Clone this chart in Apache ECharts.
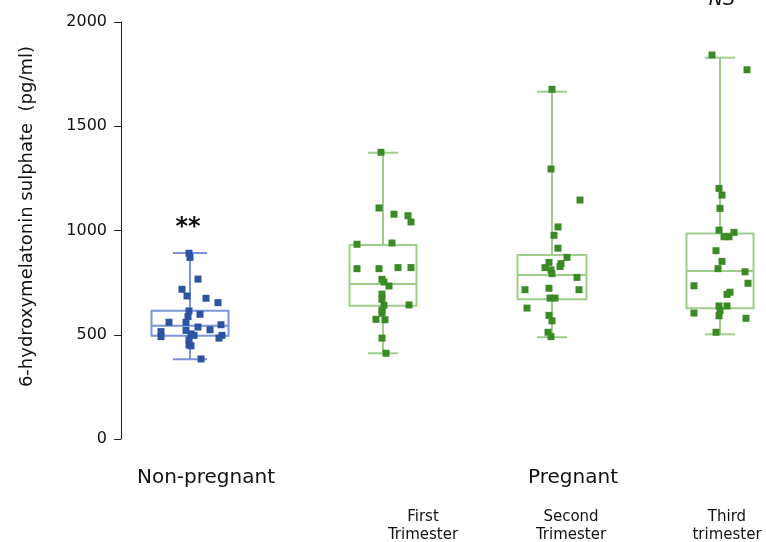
<!DOCTYPE html>
<html><head><meta charset="utf-8">
<script src="https://cdn.jsdelivr.net/npm/echarts@6/dist/echarts.min.js"></script>
<style>html,body{margin:0;padding:0;background:#fff}#c{width:766px;height:542px}</style>
</head><body><div id="c"></div>
<script>
// ---- data ----
const groups = ['Non-pregnant', 'First Trimester', 'Second Trimester', 'Third trimester'];
const groupX = [69, 262, 431, 599];            // group positions on the (hidden) x value axis
const yTicks = [0, 500, 1000, 1500, 2000];
// [min, Q1, median, Q3, max]
const boxNonPregnant = [382, 495, 543, 615, 892];
const boxFirst = [411, 639, 743, 930, 1373];
const boxSecond = [488, 670, 786, 882, 1666];
const boxThird = [502, 627, 806, 986, 1829];
// points: [jitter offset on x axis, value]
const ptsNonPregnant = [[-1,891],[0,871],[8,767],[-8,718],[-3,686],[16,675],[28,654],[-1,614],[10,598],[-2,587],[-21,560],[-4,560],[31,548],[8,537],[-29,515],[20,524],[-4,521],[-29,491],[1,504],[4,497],[32,497],[29,484],[-1,475],[-1,451],[1,447],[11,384]];
const ptsFirst = [[-2,1375],[-4,1108],[11,1078],[25,1071],[28,1041],[-26,934],[9,940],[-26,817],[-4,817],[15,822],[28,822],[-1,766],[1,753],[6,734],[-1,695],[-1,670],[1,641],[26,643],[-1,619],[-1,603],[-7,574],[2,572],[-1,484],[3,411]];
const ptsSecond = [[0,1677],[-1,1295],[28,1146],[6,1017],[2,977],[6,915],[15,871],[-3,847],[9,841],[-7,822],[8,827],[-1,811],[0,793],[25,775],[-27,716],[-3,723],[27,716],[-2,676],[3,676],[-25,628],[-3,593],[0,567],[-4,512],[-1,491]];
const ptsThird = [[-8,1842],[27,1771],[-1,1202],[2,1170],[0,1106],[-1,1002],[14,991],[4,970],[9,970],[-4,903],[2,852],[-2,817],[25,802],[28,747],[-26,735],[10,704],[7,694],[-1,638],[7,638],[0,615],[-1,591],[-26,604],[26,579],[-4,512]];
const significance = ['**', '', '', 'NS'];

// ---- build ----
const boxes = [boxNonPregnant, boxFirst, boxSecond, boxThird];
const pts = [ptsNonPregnant, ptsFirst, ptsSecond, ptsThird];
const BLUE_PT = '#2c54a3', BLUE_BOX = '#7b95d6';
const GREEN_PT = '#3b8a25', GREEN_BOX = '#9fcd8b';
const boxHalf = [38.5, 33.5, 34.5, 33.5];
const capHalf = [17, 15, 15, 15];

function renderBox(params, api) {
  const gi = api.value(6);
  const x = api.value(0);
  const c = v => api.coord([x, v]);
  const lo = c(api.value(1)), q1 = c(api.value(2)), md = c(api.value(3)), q3 = c(api.value(4)), hi = c(api.value(5));
  const cx = lo[0], hw = boxHalf[gi], cw = capHalf[gi];
  const st = { stroke: gi === 0 ? BLUE_BOX : GREEN_BOX, lineWidth: 2, fill: 'none' };
  return { type: 'group', children: [
    { type: 'rect', shape: { x: cx - hw, y: q3[1], width: hw * 2, height: q1[1] - q3[1] }, style: st },
    { type: 'line', shape: { x1: cx - hw, y1: md[1], x2: cx + hw, y2: md[1] }, style: st },
    { type: 'line', shape: { x1: cx, y1: q3[1], x2: cx, y2: hi[1] }, style: st },
    { type: 'line', shape: { x1: cx, y1: q1[1], x2: cx, y2: lo[1] }, style: st },
    { type: 'line', shape: { x1: cx - cw, y1: hi[1], x2: cx + cw, y2: hi[1] }, style: st },
    { type: 'line', shape: { x1: cx - cw, y1: lo[1], x2: cx + cw, y2: lo[1] }, style: st }
  ]};
}

const boxData = boxes.map((b, i) => [groupX[i]].concat(b).concat([i]));
const series = [{
  type: 'custom', renderItem: renderBox, data: boxData, z: 2,
  encode: { x: 0, y: [1, 2, 3, 4, 5] }, silent: true
}];
pts.forEach((arr, i) => {
  series.push({
    type: 'scatter', symbol: 'rect', symbolSize: 7, z: 3, silent: true,
    itemStyle: { color: i === 0 ? BLUE_PT : GREEN_PT, opacity: 1 },
    data: arr.map(p => [groupX[i] + p[0], p[1]])
  });
});

const FONT = 'DejaVu Sans';
const txt = (x, y, text, size, extra) => ({
  type: 'text', x: x, y: y,
  style: Object.assign({ text: text, fontFamily: FONT, fontSize: size, fill: '#111', align: 'center', verticalAlign: 'middle' }, extra || {})
});

const chart = echarts.init(document.getElementById('c'), null, { renderer: 'canvas' });
chart.setOption({
  animation: false,
  backgroundColor: '#fff',
  grid: { left: 121, right: 0, top: 22, bottom: 103, containLabel: false },
  xAxis: { type: 'value', min: 0, max: 645, show: false },
  yAxis: {
    type: 'value', min: yTicks[0], max: yTicks[yTicks.length - 1], interval: 500,
    name: '6-hydroxymelatonin sulphate  (pg/ml)', nameLocation: 'middle', nameGap: 85, nameRotate: 90,
    nameTextStyle: { fontFamily: FONT, fontSize: 18, color: '#111', padding: [0, 0, 0, 28] },
    axisLine: { show: true, lineStyle: { color: '#222', width: 1 } },
    axisTick: { show: true, length: 7, lineStyle: { color: '#222' } },
    axisLabel: { fontFamily: FONT, fontSize: 16, color: '#111', margin: 14, formatter: v => String(v) },
    splitLine: { show: false }
  },
  series: series,
  graphic: [
    txt(206, 478, 'Non-pregnant', 20),
    txt(573, 478, 'Pregnant', 20),
    txt(423, 526, 'First\nTrimester', 15, { lineHeight: 18 }),
    txt(571, 526, 'Second\nTrimester', 15, { lineHeight: 18 }),
    txt(727, 526, 'Third\ntrimester', 15, { lineHeight: 18 }),
    txt(188, 228, significance[0], 24, { fontWeight: 'bold' }),
    txt(722, 0, significance[3], 19, { fontStyle: 'italic' })
  ]
});
</script></body></html>
